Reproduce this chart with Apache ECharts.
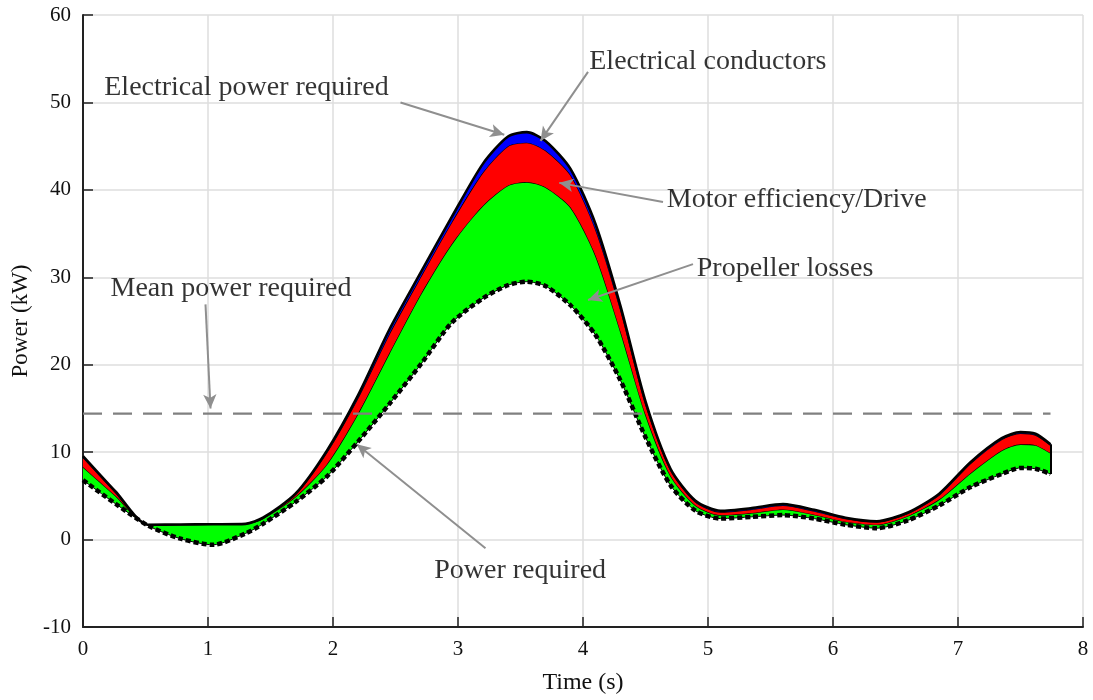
<!DOCTYPE html>
<html>
<head>
<meta charset="utf-8">
<script src="https://cdn.jsdelivr.net/npm/echarts@6/dist/echarts.min.js"></script>
<style>
  html, body { margin: 0; padding: 0; background: #fff; }
  #chart { width: 1093px; height: 700px; }
</style>
</head>
<body>
<div id="chart"></div>
<script>
// time samples (s)
var times = [0, 0.26, 0.52, 0.78, 1.04, 1.3, 1.44, 1.7, 1.95, 2.2, 2.45, 2.7, 2.95, 3.2, 3.4, 3.55, 3.7, 3.9,
    4.1, 4.3, 4.5, 4.7, 4.9, 5.1, 5.35, 5.6, 5.85, 6.1, 6.35, 6.6, 6.85, 7.1, 7.35, 7.5, 7.62, 7.74];
// power required (kW), bottom dashed curve
var powerReq = [6.8, 4.1, 1.6, 0.1, -0.6, 0.7, 1.8, 4.3, 7.2, 11.2, 15.5, 20.0, 24.8, 27.6, 29.1, 29.5, 29.0, 26.8,
    23.4, 18.2, 11.7, 6.2, 3.3, 2.4, 2.6, 2.8, 2.4, 1.7, 1.3, 2.2, 3.9, 6.0, 7.5, 8.2, 8.1, 7.5];
// top of propeller losses (green)
var propTop = [8.3, 5.0, 1.7, 1.72, 1.75, 1.8, 2.4, 4.9, 8.6, 14.4, 21.3, 28.0, 33.8, 38.2, 40.5, 40.9, 40.3, 38.0,
    32.5, 23.8, 14.3, 7.3, 3.9, 2.8, 3.05, 3.45, 2.85, 2.05, 1.7, 2.7, 4.6, 7.6, 10.2, 10.9, 10.8, 9.9];
// top of motor efficiency/drive (red)
var motorTop = [9.4, 5.4, 1.7, 1.72, 1.75, 1.8, 2.45, 5.15, 9.95, 16.2, 23.5, 30.0, 36.3, 42.0, 45.0, 45.4, 44.5, 41.7,
    35.5, 26.3, 15.5, 7.95, 4.3, 3.15, 3.45, 3.9, 3.25, 2.4, 2.0, 3.0, 5.1, 8.7, 11.45, 12.15, 11.95, 10.8];
// electrical power required = top of conductors (blue)
var elecTop = [9.55, 5.5, 1.7, 1.72, 1.75, 1.8, 2.5, 5.25, 10.15, 16.5, 24.0, 30.5, 36.9, 43.0, 46.1, 46.6, 45.6, 42.4,
    36.1, 26.7, 15.8, 8.1, 4.45, 3.3, 3.6, 4.05, 3.4, 2.5, 2.1, 3.1, 5.25, 8.85, 11.6, 12.3, 12.1, 10.9];

var meanPower = 14.4;
var meanSpan = [0, 7.74];

var xTicks = [0, 8, 1];
var yTicks = [-10, 60, 10];

// annotations: text, anchor (left edge, middle) in data units
var noteTexts = ['Electrical power required', 'Electrical conductors', 'Motor efficiency/Drive',
    'Propeller losses', 'Mean power required', 'Power required'];
var noteAt = [[0.17, 51.7], [4.05, 54.7], [4.67, 38.9], [4.91, 31.0], [0.22, 28.7], [2.81, -3.5]];
// arrows: from -> to
var arrowFrom = [[2.54, 50.0], [4.04, 53.5], [4.64, 38.6], [4.88, 31.5], [0.98, 26.9], [3.22, -1.0]];
var arrowTo = [[3.37, 46.3], [3.66, 45.6], [3.81, 40.8], [4.04, 27.4], [1.02, 15.0], [2.19, 10.9]];

var serif = 'Liberation Serif';
var smooth = 0.25;
var last = times.length - 1;

// value first, time second -> the stack runs on the power dimension
var layer = (a, b) => times.map((t, i) => [b ? +(a[i] - b[i]).toFixed(3) : a[i], t]);

var stackBase = {
    type: 'line',
    stack: 'power',
    stackStrategy: 'all',
    encode: { x: 1, y: 0 },
    symbol: 'none',
    smooth: smooth,
    silent: true
};

var chart = echarts.init(document.getElementById('chart'), null, { renderer: 'canvas' });

var option = {
    animation: false,
    grid: { left: 83, right: 10, top: 15, bottom: 69 },
    xAxis: {
        type: 'value',
        min: xTicks[0], max: xTicks[1], interval: xTicks[2],
        name: 'Time (s)',
        nameLocation: 'middle',
        nameGap: 44,
        nameTextStyle: { fontFamily: serif, fontSize: 24, color: '#111' },
        axisLine: { onZero: false, lineStyle: { color: '#222', width: 2 } },
        axisTick: { inside: true, length: 10, lineStyle: { color: '#222', width: 1.5 } },
        axisLabel: { fontFamily: serif, fontSize: 21, color: '#111', margin: 12 },
        splitLine: { lineStyle: { color: '#dedede', width: 1.5 } }
    },
    yAxis: {
        type: 'value',
        min: yTicks[0], max: yTicks[1], interval: yTicks[2],
        name: 'Power (kW)',
        nameLocation: 'middle',
        nameGap: 49,
        nameTextStyle: { fontFamily: serif, fontSize: 23, color: '#111' },
        axisLine: { show: true, lineStyle: { color: '#222', width: 2 } },
        axisTick: { show: true, inside: true, length: 10, lineStyle: { color: '#222', width: 1.5 } },
        axisLabel: { fontFamily: serif, fontSize: 21, color: '#111', margin: 12 },
        splitLine: { lineStyle: { color: '#dedede', width: 1.5 } }
    },
    series: [
        Object.assign({}, stackBase, {
            name: 'Power required',
            data: layer(powerReq),
            lineStyle: { color: '#000', width: 1 },
            z: 5
        }),
        Object.assign({}, stackBase, {
            name: 'Propeller losses',
            data: layer(propTop, powerReq),
            lineStyle: { color: '#000', width: 1.3 },
            areaStyle: { color: '#00ff00', opacity: 1 },
            z: 2
        }),
        Object.assign({}, stackBase, {
            name: 'Motor efficiency/Drive',
            data: layer(motorTop, propTop),
            lineStyle: { color: '#000', width: 1.3 },
            areaStyle: { color: '#ff0000', opacity: 1 },
            z: 3
        }),
        Object.assign({}, stackBase, {
            name: 'Electrical conductors',
            data: layer(elecTop, motorTop),
            lineStyle: { color: '#000', width: 2.6 },
            areaStyle: { color: '#0000ff', opacity: 1 },
            z: 4,
            // closing edge of the patch at the last sample
            markLine: {
                silent: true,
                symbol: 'none',
                label: { show: false },
                lineStyle: { color: '#000', width: 2, type: 'solid' },
                data: [[{ coord: [times[last], powerReq[last]] }, { coord: [times[last], elecTop[last]] }]]
            }
        }),
        {
            // dashed outline of power required
            type: 'line',
            symbol: 'none',
            smooth: smooth,
            silent: true,
            data: times.map((t, i) => [t, powerReq[i]]),
            lineStyle: { color: '#000', width: 4.5, type: [5, 3] },
            z: 6
        },
        {
            name: 'Mean power required',
            type: 'line',
            symbol: 'none',
            silent: true,
            data: meanSpan.map(t => [t, meanPower]),
            lineStyle: { color: '#808080', width: 2.2, type: [19, 11] },
            z: 7,
            markLine: {
                silent: true,
                symbol: ['none', 'arrow'],
                symbolSize: [10, 14],
                label: { show: false },
                lineStyle: { color: '#8f8f8f', width: 2, type: 'solid' },
                data: arrowFrom.map((p, i) => [{ coord: p }, { coord: arrowTo[i] }])
            }
        },
        {
            type: 'scatter',
            symbolSize: 0,
            silent: true,
            data: noteAt.map((p, i) => ({ value: p, name: noteTexts[i] })),
            label: {
                show: true,
                position: 'right',
                distance: 0,
                formatter: p => p.name,
                fontFamily: serif,
                fontSize: 28,
                color: '#000'
            },
            z: 8
        }
    ]
};

chart.setOption(option);
</script>
</body>
</html>
